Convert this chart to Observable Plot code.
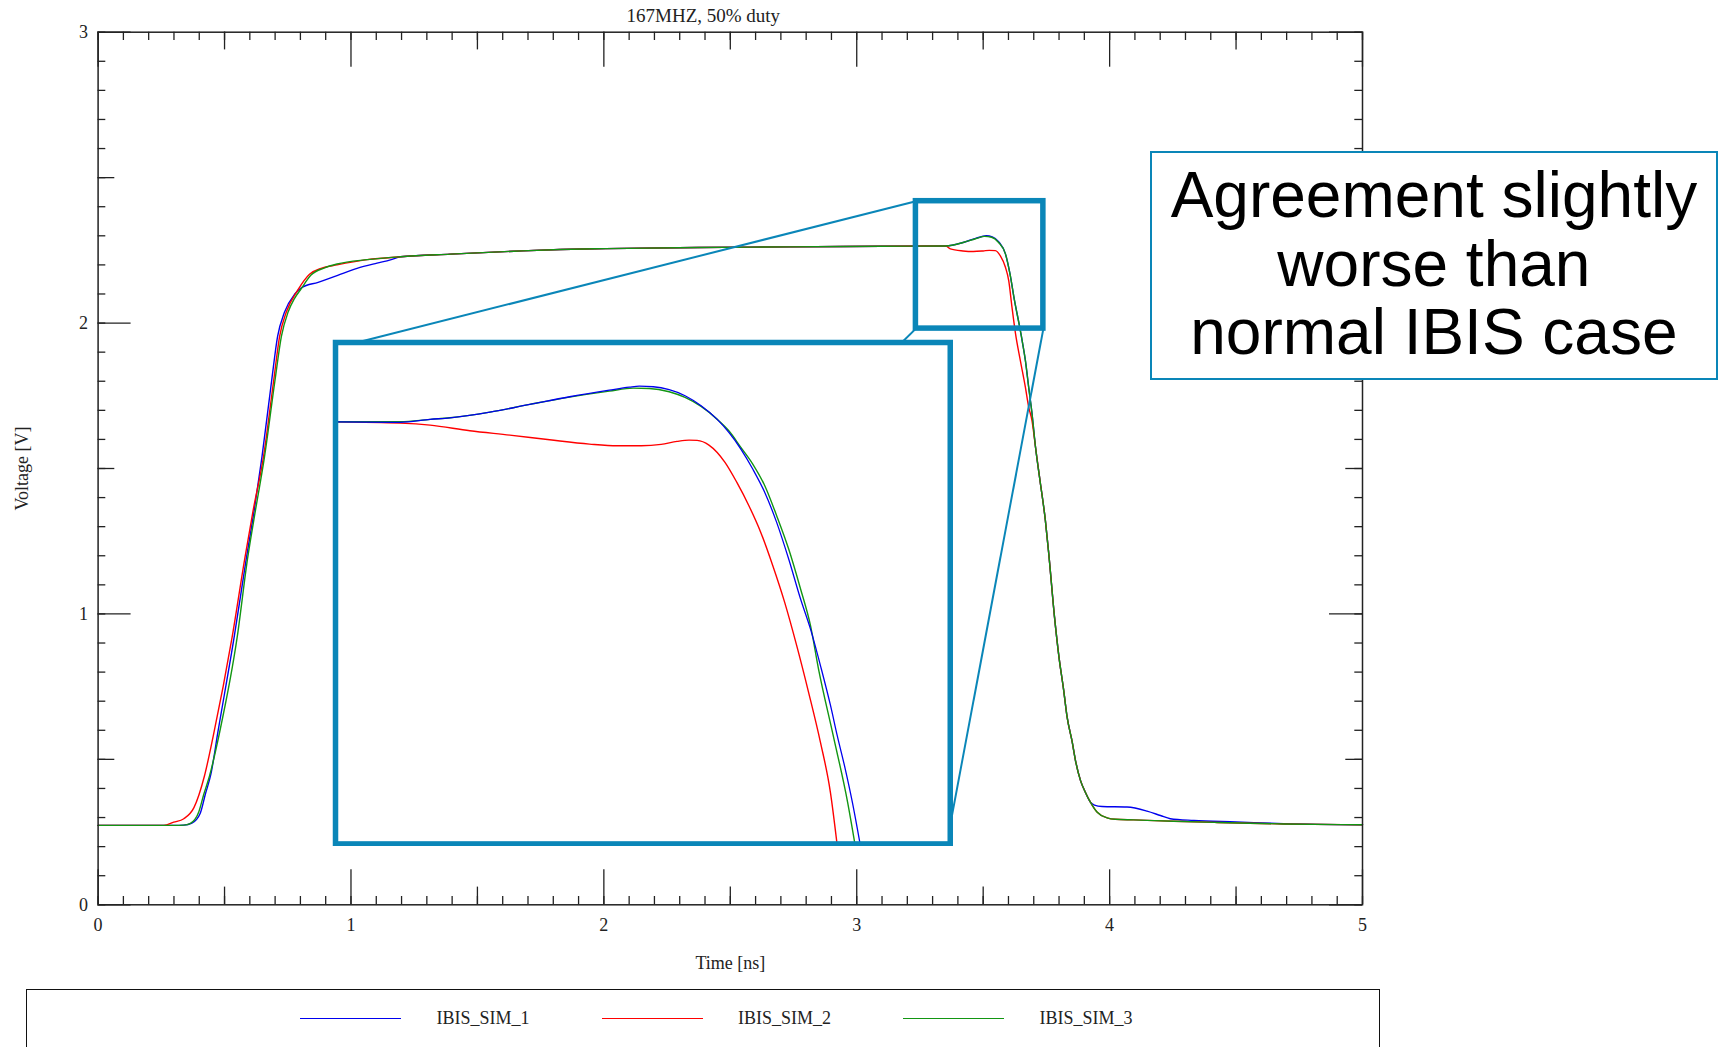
<!DOCTYPE html>
<html>
<head>
<meta charset="utf-8">
<script src="https://cdn.jsdelivr.net/npm/d3@7"></script>
<script src="https://cdn.jsdelivr.net/npm/@observablehq/plot@0.6"></script>
<style>
html, body { margin: 0; padding: 0; background: #fff; overflow: hidden; width: 1719px; height: 1047px; }
#wrap { position: relative; width: 1719px; height: 1047px; overflow: hidden; }
#wrap svg { display: block; }
#callout {
  position: absolute; box-sizing: border-box; background: #fff;
  border: 2.5px solid #0a86b8;
  font-family: "Liberation Sans", Arial, sans-serif; font-size: 64px; line-height: 68.3px;
  text-align: center; color: #000; padding-top: 8.4px;
}
#legend { position: absolute; box-sizing: border-box; border: 1.5px solid #111; background: #fff; }
.leg-swatch { position: absolute; height: 0; border-top: 1.6px solid; }
.leg-label { position: absolute; font-family: "Liberation Serif", "Times New Roman", serif; font-size: 18px; color: #222; line-height: 18px; }
</style>
</head>
<body>
<div id="wrap"></div>
<script>
// ---------------- data ----------------
const seriesNames  = ["IBIS_SIM_1", "IBIS_SIM_2", "IBIS_SIM_3"];
const seriesColors = ["#0000ee", "#ff0000", "#129612"];

// [time ns, voltage V]
const sim1 = [ // blue
  [0,0.273],[0.30,0.273],[0.339,0.274],[0.371,0.281],[0.404,0.315],[0.424,0.380],[0.446,0.449],[0.474,0.595],
  [0.538,0.92],[0.586,1.19],[0.618,1.36],[0.648,1.54],[0.686,1.80],[0.710,1.955],[0.737,2.037],[0.777,2.099],
  [0.805,2.122],[0.870,2.140],[0.945,2.163],[1.024,2.188],[1.103,2.206],[1.156,2.217],[1.196,2.228],[1.393,2.237],
  [1.645,2.247],[1.827,2.253],[2.008,2.256],[2.371,2.260],[2.734,2.262],[3.098,2.264],[3.352,2.265],[3.424,2.278],
  [3.470,2.291],[3.512,2.300],[3.536,2.296],[3.562,2.279],[3.588,2.238],[3.606,2.169],[3.624,2.077],[3.642,1.997],
  [3.654,1.940],[3.667,1.871],[3.680,1.779],[3.693,1.690],[3.707,1.573],[3.724,1.463],[3.746,1.321],[3.759,1.210],
  [3.782,0.990],[3.800,0.850],[3.818,0.740],[3.832,0.645],[3.852,0.560],[3.865,0.496],[3.885,0.427],[3.904,0.387],
  [3.924,0.353],[3.940,0.343],[3.970,0.338],[4.069,0.336],[4.148,0.322],[4.201,0.307],[4.240,0.296],[4.333,0.290],
  [4.500,0.285],[4.688,0.279],[5.0,0.275]
];
const sim2 = [ // red
  [0,0.273],[0.260,0.273],[0.299,0.284],[0.339,0.296],[0.379,0.334],[0.420,0.441],[0.455,0.579],[0.530,0.92],
  [0.580,1.19],[0.614,1.36],[0.654,1.54],[0.694,1.80],[0.718,1.955],[0.744,2.037],[0.790,2.114],[0.836,2.168],
  [0.882,2.188],[0.945,2.200],[1.064,2.218],[1.196,2.228],[1.393,2.237],[1.645,2.247],[1.827,2.253],[2.008,2.256],
  [2.371,2.260],[2.734,2.262],[3.098,2.264],[3.352,2.265],[3.370,2.255],[3.420,2.248],[3.461,2.246],[3.500,2.248],
  [3.524,2.250],[3.548,2.249],[3.568,2.231],[3.588,2.192],[3.601,2.146],[3.614,2.054],[3.628,1.963],[3.647,1.871],
  [3.667,1.779],[3.680,1.711],[3.693,1.665],[3.707,1.573],[3.724,1.463],[3.746,1.321],[3.759,1.210],[3.782,0.990],
  [3.800,0.850],[3.818,0.740],[3.832,0.645],[3.852,0.560],[3.865,0.496],[3.885,0.427],[3.904,0.387],[3.924,0.353],
  [3.951,0.318],[3.990,0.299],[4.023,0.294],[4.095,0.292],[4.254,0.287],[4.425,0.283],[4.688,0.278],[5.0,0.275]
];
const sim3 = [ // green
  [0,0.273],[0.30,0.273],[0.339,0.274],[0.365,0.280],[0.398,0.319],[0.418,0.380],[0.440,0.441],[0.481,0.595],
  [0.550,0.92],[0.591,1.19],[0.623,1.36],[0.658,1.54],[0.699,1.80],[0.725,1.955],[0.751,2.037],[0.777,2.085],
  [0.803,2.118],[0.842,2.165],[0.896,2.190],[0.945,2.203],[1.064,2.218],[1.196,2.228],[1.393,2.237],[1.645,2.247],
  [1.827,2.253],[2.008,2.256],[2.371,2.260],[2.734,2.262],[3.098,2.264],[3.352,2.265],[3.424,2.278],[3.470,2.290],
  [3.506,2.298],[3.533,2.295],[3.560,2.278],[3.588,2.238],[3.606,2.169],[3.624,2.077],[3.642,1.997],[3.654,1.940],
  [3.667,1.871],[3.680,1.779],[3.693,1.690],[3.707,1.573],[3.724,1.463],[3.746,1.321],[3.759,1.210],[3.782,0.990],
  [3.800,0.850],[3.818,0.740],[3.832,0.645],[3.852,0.560],[3.865,0.496],[3.885,0.427],[3.904,0.387],[3.924,0.353],
  [3.951,0.318],[3.990,0.299],[4.023,0.294],[4.095,0.292],[4.254,0.287],[4.425,0.283],[4.688,0.278],[5.0,0.275]
];

// magnified view (inset)
const insetDomainX = [3.308, 3.722];
const insetDomainY = [1.843, 2.345];
const inset1 = [ // blue
  [3.308,2.2656],[3.3516,2.2650],[3.3717,2.2680],[3.3851,2.2696],[3.4120,2.2753],[3.4388,2.2830],[3.4656,2.2907],
  [3.4924,2.2973],[3.5059,2.3003],[3.5126,2.3013],[3.5220,2.3007],[3.5327,2.2977],[3.5434,2.2917],[3.5542,2.2817],
  [3.5649,2.2683],[3.5729,2.2550],[3.5810,2.2383],[3.5890,2.2183],[3.5971,2.1949],[3.6051,2.1649],[3.6132,2.1282],
  [3.6212,2.0882],[3.6279,2.0581],[3.6352,2.0181],[3.6414,1.9814],[3.6459,1.9514],[3.6513,1.9180],[3.6561,1.8847],
  [3.6615,1.8413]
];
const inset2 = [ // red
  [3.308,2.2656],[3.3516,2.2643],[3.3717,2.2623],[3.3985,2.2566],[3.4254,2.2523],[3.4522,2.2476],[3.4790,2.2433],
  [3.4978,2.2416],[3.5139,2.2416],[3.5273,2.2430],[3.5380,2.2460],[3.5461,2.2473],[3.5515,2.2470],[3.5595,2.2423],
  [3.5703,2.2250],[3.5783,2.2049],[3.5864,2.1816],[3.5944,2.1549],[3.6025,2.1215],[3.6105,2.0848],[3.6186,2.0415],
  [3.6266,1.9948],[3.6346,1.9447],[3.6413,1.8947],[3.6459,1.8413]
];
const inset3 = [ // green
  [3.308,2.2656],[3.3516,2.2656],[3.3717,2.2680],[3.3851,2.2696],[3.4120,2.2753],[3.4388,2.2830],[3.4656,2.2903],
  [3.4924,2.2963],[3.5085,2.2993],[3.5193,2.2990],[3.5327,2.2957],[3.5434,2.2900],[3.5542,2.2810],[3.5649,2.2683],
  [3.5729,2.2566],[3.5810,2.2400],[3.5890,2.2233],[3.5971,2.2016],[3.6051,2.1716],[3.6132,2.1382],[3.6212,2.0982],
  [3.6279,2.0615],[3.6333,2.0181],[3.6432,1.9514],[3.6529,1.8847],[3.6580,1.8413]
];

// axes
const xDomain = [0, 5], yDomain = [0, 3];
const xTickLabels = [0, 1, 2, 3, 4, 5];
const yTickLabels = [0, 1, 2, 3];
const xMidTicks = [0.5, 1.5, 2.5, 3.5, 4.5];
const yMidTicks = [0.5, 1.5, 2.5];
const xMinorTicks = d3.range(0, 51).map(i => i / 10);
const yMinorTicks = d3.range(0, 31).map(i => i / 10);

// annotation regions (data units of main chart)
const zoomBox  = {t1: 3.234, t2: 3.738, v1: 1.981, v2: 2.419};
const insetBox = {t1: 0.939, t2: 3.370, v1: 0.210, v2: 1.934};
const zoomLinks = [
  {x1: 3.234, y1: 2.419, x2: 1.028, y2: 1.934},
  {x1: 3.234, y1: 1.981, x2: 3.179, y2: 1.934},
  {x1: 3.738, y1: 1.981, x2: 3.377, y2: 0.309}
];
const titleText = "167MHZ, 50% duty";
const xLabel = "Time [ns]", yLabel = "Voltage [V]";
const calloutLines = ["Agreement slightly", "worse than", "normal IBIS case"];

// ---------------- layout ----------------
const W = 1719, H = 1047;
const mL = 97.6, mR = W - 1362, mT = 31.7, mB = H - 904.3;
const fW = W - mL - mR, fH = H - mT - mB;
const axisColor = "#222";
const boxColor = "#0a86b8";
const serif = "'Liberation Serif','Times New Roman',serif";

const toRows = (arrs) => arrs.flatMap((s, i) => s.map(([t, v]) => ({t, v, series: seriesNames[i]})));
const mainRows = toRows([sim1, sim2, sim3]);

const tick = (kind, vals, len) => {
  const o = {stroke: axisColor, strokeWidth: 1.3};
  if (kind === "bottom") return Plot.ruleX(vals, {x: d => d, insetTop: fH - len, ...o});
  if (kind === "top")    return Plot.ruleX(vals, {x: d => d, insetBottom: fH - len, ...o});
  if (kind === "left")   return Plot.ruleY(vals, {y: d => d, insetRight: fW - len, ...o});
  return Plot.ruleY(vals, {y: d => d, insetLeft: fW - len, ...o});
};
const tickSet = [];
for (const side of ["bottom", "top"]) {
  tickSet.push(tick(side, xMinorTicks, 8.3), tick(side, xMidTicks, 17.7), tick(side, xTickLabels, 35));
}
for (const side of ["left", "right"]) {
  tickSet.push(tick(side, yMinorTicks, 7.7), tick(side, yMidTicks, 16.7), tick(side, yTickLabels, 33));
}

const main = Plot.plot({
  width: W, height: H,
  marginLeft: mL, marginRight: mR, marginTop: mT, marginBottom: mB,
  style: {fontFamily: serif, fontSize: "18px", color: axisColor, background: "#fff"},
  x: {domain: xDomain},
  y: {domain: yDomain},
  color: {domain: seriesNames, range: seriesColors},
  marks: [
    ...tickSet,
    Plot.axisX({ticks: xTickLabels, tickSize: 0, tickPadding: 13, fontSize: 18, label: null, tickFormat: d => String(d)}),
    Plot.axisY({ticks: yTickLabels, tickSize: 0, tickPadding: 10, fontSize: 18, label: null, tickFormat: d => String(d)}),
    Plot.line(mainRows, {x: "t", y: "v", z: "series", stroke: "series", strokeWidth: 1.4, curve: "monotone-x"}),
    Plot.frame({stroke: axisColor, strokeWidth: 1.5}),
    Plot.link(zoomLinks, {x1: "x1", y1: "y1", x2: "x2", y2: "y2", stroke: boxColor, strokeWidth: 2}),
    Plot.rect([zoomBox], {x1: "t1", x2: "t2", y1: "v1", y2: "v2", fill: "none", stroke: boxColor, strokeWidth: 5.5}),
    Plot.text([titleText], {text: d => d, frameAnchor: "top", lineAnchor: "middle", dx: -27, dy: -16, fontSize: 19, fill: axisColor}),
    Plot.text([xLabel], {text: d => d, frameAnchor: "bottom", lineAnchor: "middle", dy: 58.5, fontSize: 18, fill: axisColor}),
    Plot.text([yLabel], {text: d => d, frameAnchor: "left", textAnchor: "middle", lineAnchor: "middle", dx: -75.6, rotate: -90, fontSize: 18, fill: axisColor})
  ]
});
const wrap = document.getElementById("wrap");
wrap.appendChild(main);
main.style.position = "absolute"; main.style.left = "0px"; main.style.top = "0px";

// ---------------- inset (magnified view) ----------------
const sx = main.scale("x"), sy = main.scale("y");
const ix1 = sx.apply(insetBox.t1), ix2 = sx.apply(insetBox.t2);
const iy1 = sy.apply(insetBox.v2), iy2 = sy.apply(insetBox.v1);
const pad = 3;
const insetRows = toRows([inset1, inset2, inset3]);
const insetLine = (name, w) => Plot.line(insetRows.filter(d => d.series === name),
  {x: "t", y: "v", stroke: "series", strokeWidth: w, curve: "monotone-x", clip: true});
const inset = Plot.plot({
  width: (ix2 - ix1) + 2 * pad, height: (iy2 - iy1) + 2 * pad,
  margin: pad,
  style: {background: "transparent"},
  x: {domain: insetDomainX, axis: null},
  y: {domain: insetDomainY, axis: null},
  color: {domain: seriesNames, range: seriesColors},
  marks: [
    Plot.frame({fill: "#fff"}),
    insetLine(seriesNames[1], 1.4),
    insetLine(seriesNames[2], 1.4),
    insetLine(seriesNames[0], 1.3),
    Plot.frame({stroke: boxColor, strokeWidth: 5.5})
  ]
});
inset.style.position = "absolute";
inset.style.left = (ix1 - pad) + "px";
inset.style.top = (iy1 - pad) + "px";
wrap.appendChild(inset);

// ---------------- callout ----------------
const callout = document.createElement("div");
callout.id = "callout";
callout.style.left = "1149.75px"; callout.style.top = "151.05px";
callout.style.width = "568.3px"; callout.style.height = "229.2px";
callout.innerHTML = calloutLines.map(s => `<div>${s}</div>`).join("");
wrap.appendChild(callout);

// ---------------- legend ----------------
const legend = document.createElement("div");
legend.id = "legend";
legend.style.left = "25.5px"; legend.style.top = "989.3px";
legend.style.width = "1354.5px"; legend.style.height = "120px";
wrap.appendChild(legend);
seriesNames.forEach((name, i) => {
  const x0 = 300 + i * 301.5;
  const sw = document.createElement("div");
  sw.className = "leg-swatch";
  sw.style.left = x0 + "px"; sw.style.top = "1018px"; sw.style.width = "101px";
  sw.style.borderTopColor = seriesColors[i];
  wrap.appendChild(sw);
  const lb = document.createElement("div");
  lb.className = "leg-label";
  lb.style.left = (x0 + 136.6) + "px"; lb.style.top = "1009px";
  lb.textContent = name;
  wrap.appendChild(lb);
});
</script>
</body>
</html>
